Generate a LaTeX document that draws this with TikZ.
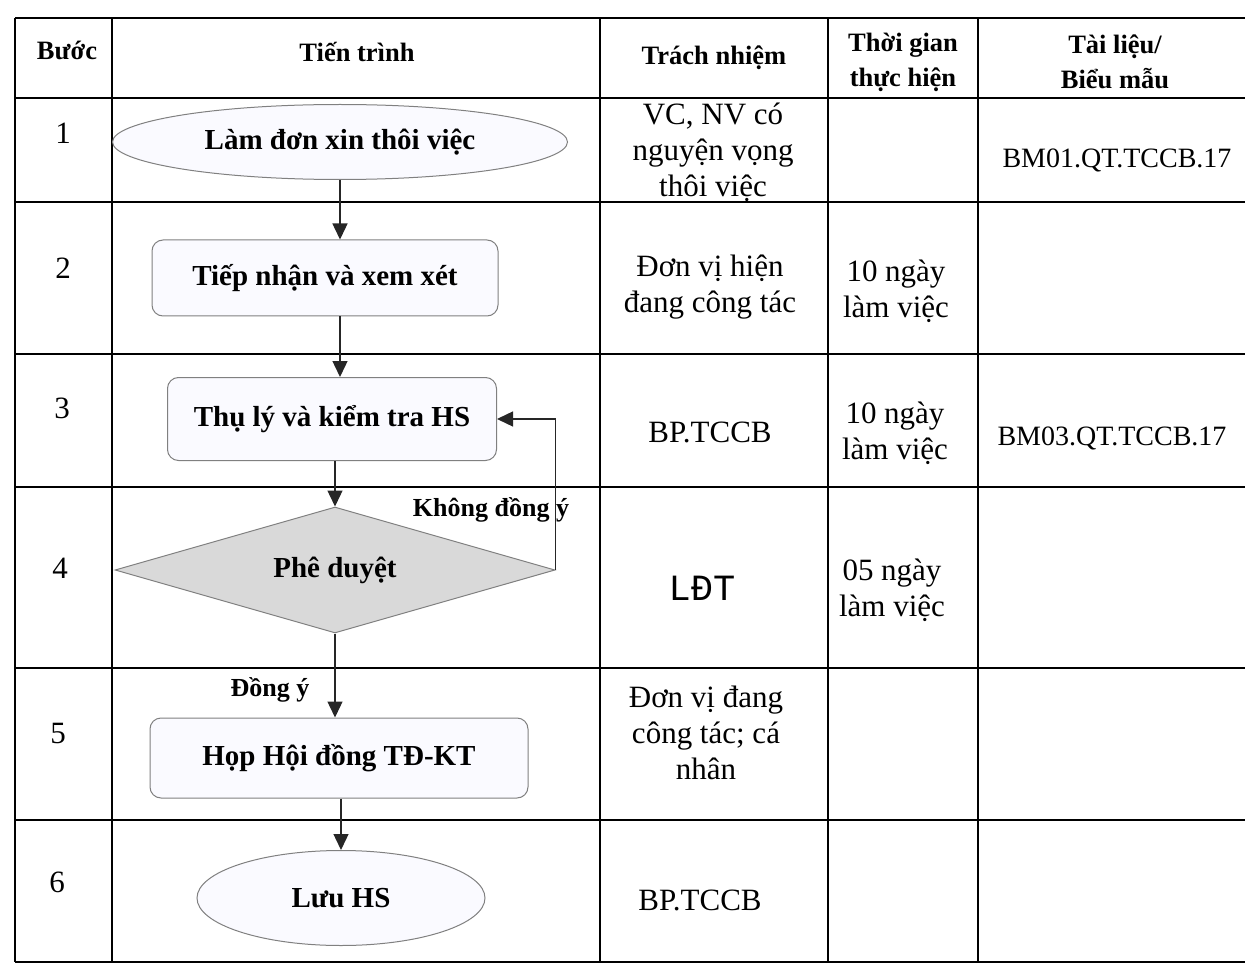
\documentclass[tikz,border=0pt]{standalone}
\usepackage{fontspec}
\setmainfont{Liberation Serif}
\newfontfamily\ldtfont{Liberation Mono}
\usepackage{xcolor}
\usetikzlibrary{shapes.geometric, arrows.meta, positioning}
\tikzstyle{arrow} = [line width=1.4pt, draw=black!85, -{Triangle[length=16pt, width=15pt]}]
\tikzstyle{grid} = [line width=1.2pt, black]
\tikzstyle{startstop} = [ellipse, draw=gray, line width=1pt, fill=blue!2, font=\fontsize{29}{34}\selectfont\bfseries]
\tikzstyle{process} = [rectangle, rounded corners=11pt, draw=gray, line width=1pt, fill=blue!2, font=\fontsize{29}{34}\selectfont\bfseries]
\tikzstyle{decision} = [diamond, aspect=3.5, inner sep=0pt, draw=gray, line width=1pt, fill=gray!30, font=\fontsize{29}{34}\selectfont\bfseries]
\tikzstyle{branch} = [font=\fontsize{26}{30}\selectfont\bfseries]
\tikzstyle{head} = [align=center, font=\fontsize{26.5}{35}\selectfont\bfseries]
\tikzstyle{cell} = [align=center, font=\fontsize{31}{36}\selectfont]

\begin{document}
\begin{tikzpicture}[x=1pt, y=-1pt]
\useasboundingbox (0,0) rectangle (1245,976);

% Table
\foreach \y in {18,98,202,354,487,668,820,962}
  \draw[grid] (15,\y) -- (1245,\y);
\foreach \x in {15,112,600,828,978}
  \draw[grid] (\x,18) -- (\x,962);

% Header
\node (h_buoc) [head] at (67,50) {Bước};
\node (h_tientrinh) [head] at (357,52) {Tiến trình};
\node (h_trachnhiem) [head] at (714,58) {Trách nhiệm};
\node (h_thoigian) [head] at (903,62) {Thời gian\\thực hiện};
\node (h_tailieu) [head] at (1115,62) {Tài liệu/\\Biểu mẫu};

% Steps
\node (s1) [cell] at (63,133) {1};
\node (s2) [cell] at (63,268) {2};
\node (s3) [cell] at (62,408) {3};
\node (s4) [cell] at (60,568) {4};
\node (s5) [cell] at (58,733) {5};
\node (s6) [cell] at (57,882) {6};

% Flow
\node (lamdon) [startstop, minimum width=455pt, minimum height=75pt] at (340,142) {Làm đơn xin thôi việc};
\node (tiepnhan) [process, minimum width=346pt, minimum height=76pt] at (325,278) {Tiếp nhận và xem xét};
\node (thuly) [process, minimum width=329pt, minimum height=83pt] at (332,419) {Thụ lý và kiểm tra HS};
\node (pheduyet) [decision, minimum width=440pt, minimum height=126pt] at (335,570) {Phê duyệt};
\node (hop) [process, minimum width=378pt, minimum height=80pt] at (339,758) {Họp Hội đồng TĐ-KT};
\node (luu) [startstop, minimum width=288pt, minimum height=95pt] at (341,898) {Lưu HS};
\node (khong) [branch] at (491,510) {Không đồng ý};
\node (dongy) [branch] at (270,690) {Đồng ý};

% Responsibility
\node (r1) [cell] at (713,152) {VC, NV có\\nguyện vọng\\thôi việc};
\node (r2) [cell] at (710,287) {Đơn vị hiện\\đang công tác};
\node (r3) [cell] at (710,432) {BP.TCCB};
\node (r4) [cell, font=\fontsize{37}{40}\ldtfont] at (702,588) {LĐT};
\node (r5) [cell] at (706,733) {Đơn vị đang\\công tác; cá\\nhân};
\node (r6) [cell] at (700,900) {BP.TCCB};

% Time
\node (t2) [cell] at (896,291) {10 ngày\\làm việc};
\node (t3) [cell] at (895,433) {10 ngày\\làm việc};
\node (t4) [cell] at (892,590) {05 ngày\\làm việc};

% Forms
\node (f1) [cell, font=\fontsize{28}{36}\selectfont] at (1117,160) {BM01.QT.TCCB.17};
\node (f3) [cell, font=\fontsize{28}{36}\selectfont] at (1112,438) {BM03.QT.TCCB.17};

% Connections
\draw [arrow] (lamdon) -- (lamdon |- tiepnhan.north);
\draw [arrow] (tiepnhan.south -| lamdon) -- (thuly.north -| lamdon);
\draw [arrow] (thuly.south -| pheduyet) -- (pheduyet.north);
\draw [arrow] (pheduyet.east) -- ++(0,0) |- (thuly.east);
\draw [arrow] (pheduyet.south) -- (hop.north -| pheduyet);
\draw [arrow] (hop.south -| luu) -- (luu.north);

\end{tikzpicture}
\end{document}
